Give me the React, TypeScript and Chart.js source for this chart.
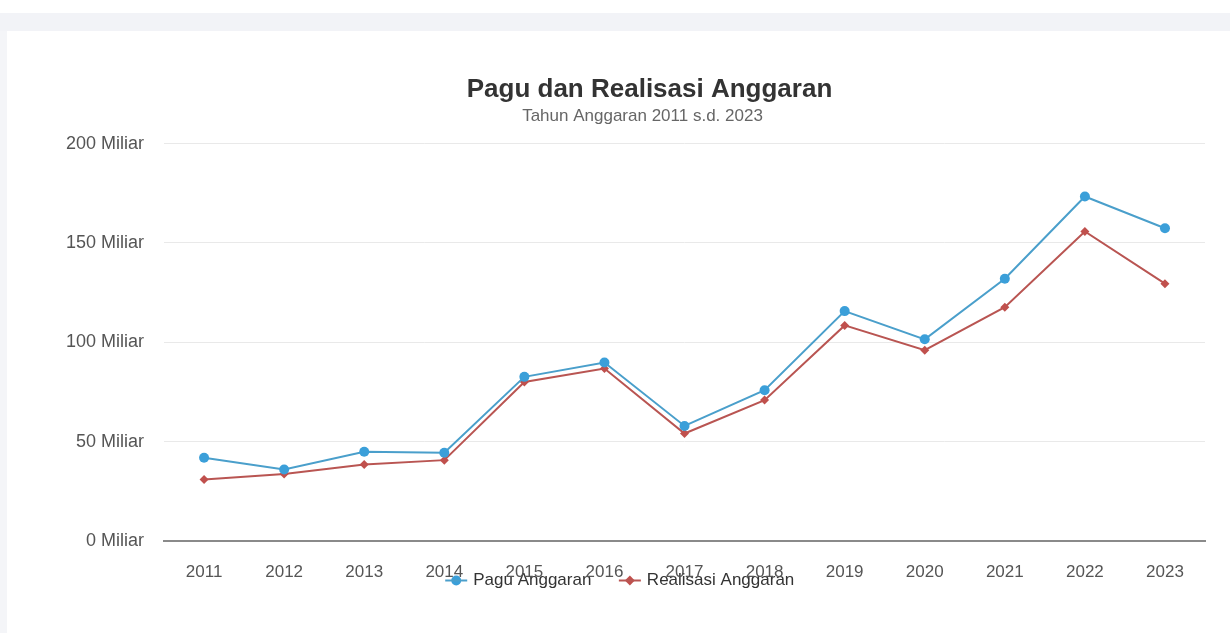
import React, { useEffect, useRef } from "react";
import { Chart, registerables } from "chart.js";

Chart.register(...registerables);

const titleText = "Pagu dan Realisasi Anggaran";
const subtitleText = "Tahun Anggaran 2011 s.d. 2023";
const years = ["2011", "2012", "2013", "2014", "2015", "2016", "2017", "2018", "2019", "2020", "2021", "2022", "2023"];
const paguLabel = "Pagu Anggaran";
const realisasiLabel = "Realisasi Anggaran";
const pagu = [41.9, 36, 44.9, 44.4, 82.6, 89.8, 57.9, 75.9, 115.7, 101.5, 132, 173.4, 157.4];
const realisasi = [31, 33.7, 38.5, 40.7, 80, 86.8, 54.1, 70.9, 108.5, 96, 117.7, 155.8, 129.5];
const yTicks = [0, 50, 100, 150, 200];
const tickSuffix = " Miliar";

const FONT = "'Liberation Sans', Arial, sans-serif";
const BLUE = "#3b9fd9";
const BLUE_LINE = "#4a9fcb";
const RED = "#c0504d";
const RED_LINE = "#b95552";

// desired horizontal centres (canvas coordinates)
const TITLE_CX = 642.5;
const SUBTITLE_CX = 635.5;
const LEGEND_CX = 614;

const shiftPlugin = {
  id: "shiftBoxes",
  afterLayout(chart: any) {
    for (const b of chart.boxes) {
      if (!b || !b.options) continue;
      let target: number | null = null;
      if (b.options.text === titleText) target = TITLE_CX;
      else if (b.options.text === subtitleText) target = SUBTITLE_CX;
      else if (b === chart.legend) target = LEGEND_CX;
      if (target !== null) {
        const dx = target - (b.left + b.right) / 2;
        b.left += dx;
        b.right += dx;
      }
    }
    const x = chart.scales.x;
    if (x) x.bottom = x.top + 50;
  },
};

const legendLinePlugin = {
  id: "legendLines",
  afterDraw(chart: any) {
    const lg = chart.legend;
    if (!lg || !lg.legendHitBoxes) return;
    const ctx = chart.ctx;
    const colors = [BLUE_LINE, RED_LINE];
    const bw = 17;
    lg.legendHitBoxes.forEach((h: any, i: number) => {
      const cx = h.left + bw / 2;
      const cy = h.top + h.height / 2;
      ctx.save();
      ctx.strokeStyle = colors[i];
      ctx.lineWidth = 2;
      ctx.beginPath();
      ctx.moveTo(cx - 11, cy);
      ctx.lineTo(cx + 11, cy);
      ctx.stroke();
      ctx.restore();
    });
  },
};

export default function App() {
  const ref = useRef<HTMLCanvasElement | null>(null);

  useEffect(() => {
    if (!ref.current) return;
    Chart.defaults.font.family = FONT;
    const chart = new Chart(ref.current, {
      type: "line",
      data: {
        labels: years,
        datasets: [
          {
            label: paguLabel,
            data: pagu,
            borderColor: BLUE_LINE,
            backgroundColor: BLUE,
            pointBackgroundColor: BLUE,
            pointBorderColor: BLUE,
            pointStyle: "circle",
            pointRadius: 5,
            pointBorderWidth: 0,
            borderWidth: 2,
            tension: 0,
          },
          {
            label: realisasiLabel,
            data: realisasi,
            borderColor: RED_LINE,
            backgroundColor: RED,
            pointBackgroundColor: RED,
            pointBorderColor: RED,
            pointStyle: "rectRot",
            pointRadius: 4.5,
            pointBorderWidth: 0,
            borderWidth: 2,
            tension: 0,
          },
        ],
      },
      options: {
        responsive: false,
        animation: false,
        layout: { padding: { left: 39, right: 25, top: 0, bottom: 34 } },
        plugins: {
          title: {
            display: true,
            text: titleText,
            color: "#333333",
            font: { size: 26, weight: "bold", family: FONT },
            padding: { top: 43, bottom: 0 },
          },
          subtitle: {
            display: true,
            text: subtitleText,
            color: "#666666",
            font: { size: 17, family: FONT },
            padding: { top: 1, bottom: 17 },
          },
          legend: {
            display: true,
            position: "bottom",
            labels: {
              usePointStyle: true,
              boxWidth: 17,
              boxHeight: 7,
              padding: 30,
              color: "#333333",
              font: { size: 17, family: FONT },
            },
          },
          tooltip: { enabled: false },
        },
        scales: {
          x: {
            type: "category",
            offset: true,
            grid: { display: false, drawTicks: false },
            border: { display: true, color: "#8a8a8a", width: 2 },
            ticks: {
              color: "#555555",
              padding: 21,
              maxRotation: 0,
              autoSkip: false,
              font: { size: 17, family: FONT },
            },
            afterFit(scale: any) {
              scale.height = 1;
            },
          },
          y: {
            min: 0,
            max: 200,
            grid: { color: "#e9e9e9", drawTicks: false, lineWidth: 1 },
            border: { display: false },
            afterBuildTicks(scale: any) {
              scale.ticks = yTicks.map((v) => ({ value: v }));
            },
            ticks: {
              color: "#555555",
              padding: 20,
              font: { size: 18, family: FONT },
              callback: (v: any) => `${v}${tickSuffix}`,
            },
          },
        },
      },
      plugins: [shiftPlugin, legendLinePlugin],
    } as any);
    return () => chart.destroy();
  }, []);

  return (
    <div style={{ position: "fixed", inset: 0, background: "#ffffff", overflow: "hidden" }}>
      <div style={{ position: "absolute", left: 0, top: 13, right: 0, height: 18, background: "#f2f3f7" }} />
      <div style={{ position: "absolute", left: 0, top: 31, width: 7, bottom: 0, background: "#f4f5f8" }} />
      <div style={{ position: "absolute", left: 7, top: 31, width: 1223, height: 602, background: "#ffffff" }}>
        <canvas ref={ref} width={1223} height={602} style={{ display: "block", width: 1223, height: 602 }} />
      </div>
    </div>
  );
}
